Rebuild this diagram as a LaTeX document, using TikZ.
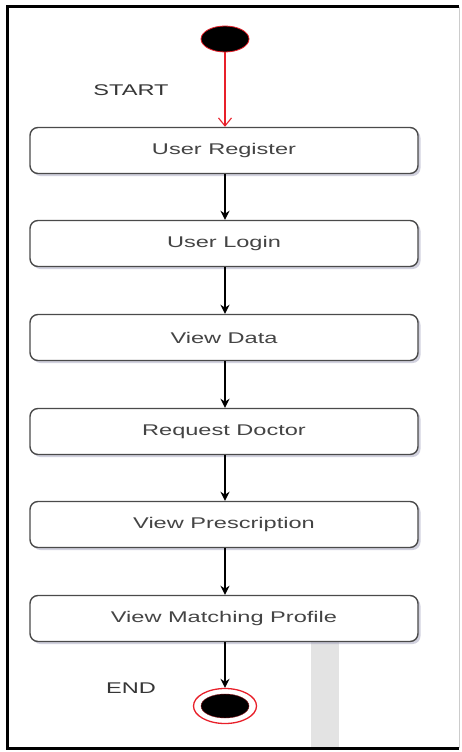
\documentclass[tikz,border=0pt]{standalone}
\usepackage{fontspec}
\setmainfont{Liberation Sans}
\usetikzlibrary{arrows.meta,shadows,positioning,shapes.geometric}
\definecolor{boxline}{HTML}{4A4A4A}
\definecolor{txt}{HTML}{444444}
\definecolor{shade}{HTML}{9A9AB8}
\definecolor{startred}{HTML}{E8202A}
\newcommand{\wide}[1]{\scalebox{1.52}[1]{#1}}
\tikzset{
  activity/.style={draw=boxline, line width=1.4pt, rounded corners=8pt, fill=white,
    minimum width=388pt, minimum height=46pt, inner sep=0pt,
    text=txt, font=\fontsize{15.5}{18}\selectfont,
    drop shadow={shadow xshift=2.5pt, shadow yshift=-2.5pt, fill=shade, opacity=0.45}},
  flow/.style={draw=black, line width=1.6pt, -{Stealth[length=9pt,width=9pt]}},
  startflow/.style={draw=startred, line width=1.1pt, -{Straight Barb[length=8pt,width=13pt]}},
  tag/.style={text=txt!80!black, font=\fontsize{15.5}{18}\selectfont, inner sep=0pt}
}
\begin{document}
\begin{tikzpicture}[x=1pt,y=-1pt]
  \useasboundingbox (0,0) rectangle (461,752);
  \fill[white] (0,0) rectangle (461,752);
  % outer frame
  \draw[black, line width=3pt] (459,7) -- (7,7) -- (7,748) -- (459,748);
  \draw[gray!40, line width=1pt] (459,7) -- (459,748);
  \fill[gray!22] (311,636) rectangle (339,746.5);

  % start and end states
  \node (start) [ellipse, draw=startred, line width=0.8pt, fill=black,
    minimum width=48pt, minimum height=26pt, inner sep=0pt] at (225,39) {};
  \node (endring) [ellipse, draw=startred, line width=1.3pt, fill=white,
    minimum width=63pt, minimum height=35pt, inner sep=0pt] at (225,706) {};
  \node (end) [ellipse, fill=black, draw=startred!60!black, line width=0.4pt,
    minimum width=48pt, minimum height=24pt, inner sep=0pt] at (225,706) {};

  % activities
  \node (reg)   [activity] at (224,150.5) {\wide{User Register}};
  \node (login) [activity] at (224,243.5) {\wide{User Login}};
  \node (data)  [activity] at (224,337.5) {\wide{View Data}};
  \node (req)   [activity] at (224,431.5) {\wide{Request Doctor}};
  \node (pres)  [activity] at (224,524.5) {\wide{View Prescription}};
  \node (match) [activity] at (224,618.5) {\wide{View Matching Profile}};

  % labels
  \node (lstart) [tag] at (131,90) {\wide{START}};
  \node (lend)   [tag] at (131,688) {\wide{END}};

  % transitions
  \draw[startflow] (start.south) -- (start.south |- reg.north);
  \draw[flow] (reg.south -| 225,0) -- (login.north -| 225,0);
  \draw[flow] (login.south -| 225,0) -- (data.north -| 225,0);
  \draw[flow] (data.south -| 225,0) -- (req.north -| 225,0);
  \draw[flow] (req.south -| 225,0) -- (pres.north -| 225,0);
  \draw[flow] (pres.south -| 225,0) -- (match.north -| 225,0);
  \draw[flow] (match.south -| 225,0) -- (endring.north);
\end{tikzpicture}
\end{document}
